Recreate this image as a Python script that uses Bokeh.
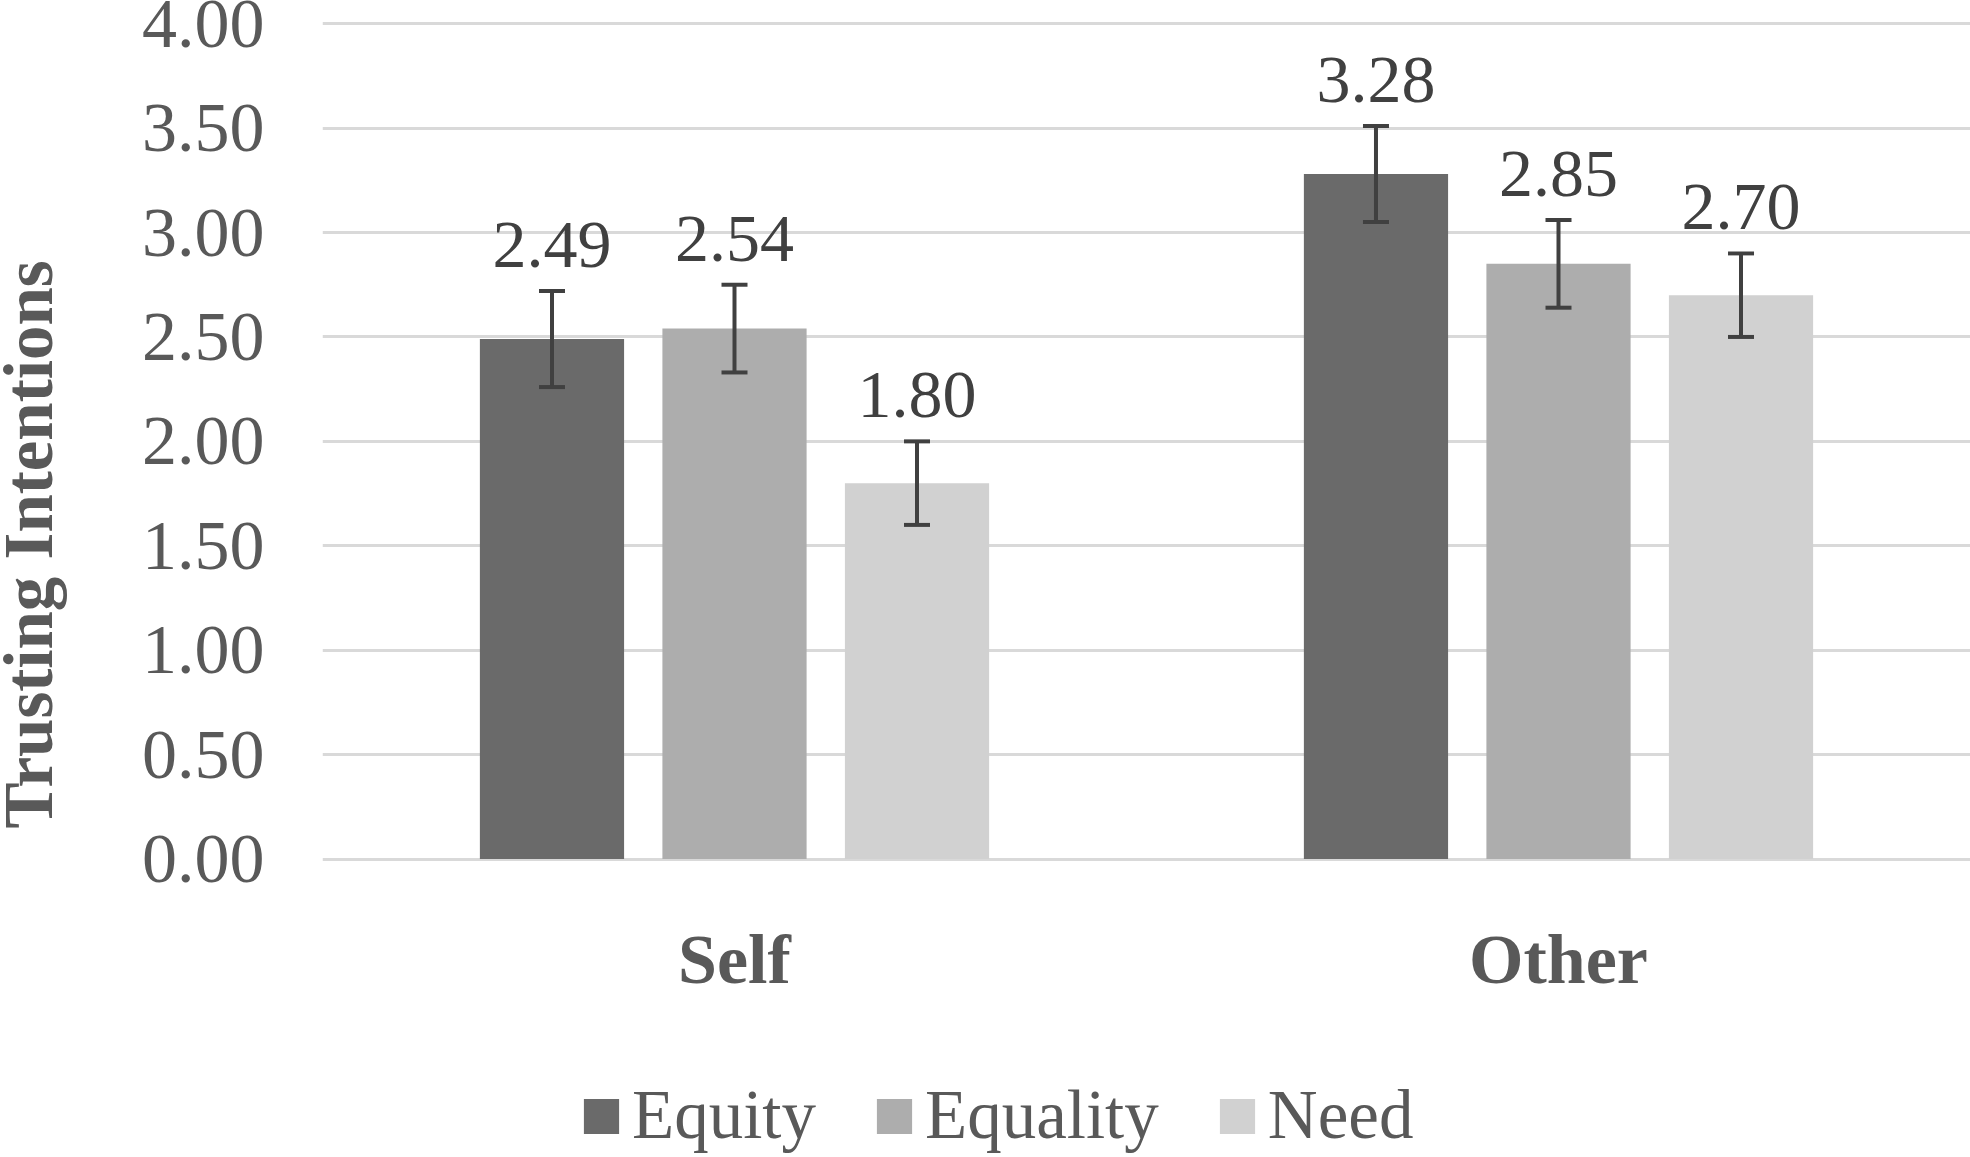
from bokeh.plotting import figure
from bokeh.models import (ColumnDataSource, FactorRange, Range1d, FixedTicker, NumeralTickFormatter,
                          Whisker, TeeHead, Legend, LegendItem, LabelSet, Label)
from bokeh.transform import dodge
from bokeh.embed import file_html
from bokeh.resources import INLINE

# ---- data ----
categories = ["Self", "Other"]
series = ["Equity", "Equality", "Need"]
equity = [2.49, 3.28]
equality = [2.54, 2.85]
need = [1.80, 2.70]
equity_err = [0.23, 0.23]
equality_err = [0.21, 0.21]
need_err = [0.20, 0.20]
y_ticks = [0, 0.5, 1.0, 1.5, 2.0, 2.5, 3.0, 3.5, 4.0]
y_title = "Trusting Intentions"

colors = ["#6a6a6a", "#adadad", "#d1d1d1"]
offsets = [-0.2215, 0.0, 0.2215]
vals = [equity, equality, need]
errs = [equity_err, equality_err, need_err]

FONT = "Liberation Serif"

# frame runs to the bottom edge so that category labels and legend can sit below zero
p = figure(x_range=FactorRange(factors=categories, range_padding=0),
           y_range=Range1d(-1.429, 4.02),
           x_axis_location=None,
           width=1970, height=1157, output_backend="svg", toolbar_location=None,
           min_border_left=322, min_border_right=0, min_border_top=19, min_border_bottom=0)
p.outline_line_color = None
p.background_fill_color = "white"
p.border_fill_color = "white"

renderers = []
for name, col, off, v, e in zip(series, colors, offsets, vals, errs):
    src = ColumnDataSource(dict(
        cat=categories,
        val=v,
        upper=[a + b for a, b in zip(v, e)],
        lower=[a - b for a, b in zip(v, e)],
        label=["%.2f" % a for a in v],
    ))
    r = p.vbar(x=dodge("cat", off, range=p.x_range), top="val", bottom=0, width=0.175, source=src,
               fill_color=col, line_color=None)
    renderers.append((name, r))
    w = Whisker(base=dodge("cat", off, range=p.x_range), upper="upper", lower="lower", source=src,
                line_color="#404040", line_width=4, level="overlay",
                upper_head=TeeHead(size=26, line_color="#404040", line_width=4),
                lower_head=TeeHead(size=26, line_color="#404040", line_width=4))
    p.add_layout(w)
    lbl = LabelSet(x=dodge("cat", off, range=p.x_range), y="upper", text="label", source=src,
                   text_font=FONT, text_font_size="68px", text_color="#404040",
                   text_align="center", text_baseline="alphabetic", y_offset=24, level="overlay")
    p.add_layout(lbl)

# category labels (horizontal axis)
cat_src = ColumnDataSource(dict(cat=categories, base=[0] * len(categories)))
p.add_layout(LabelSet(x="cat", y="base", text="cat", source=cat_src,
                      text_font=FONT, text_font_size="70px", text_font_style="bold",
                      text_color="#595959", text_align="center", text_baseline="alphabetic",
                      y_offset=-124))

# grid
p.xgrid.visible = False
p.ygrid.grid_line_color = "#d9d9d9"
p.ygrid.grid_line_width = 3
p.ygrid.ticker = FixedTicker(ticks=y_ticks)

# y axis
p.yaxis.ticker = FixedTicker(ticks=y_ticks)
p.yaxis.formatter = NumeralTickFormatter(format="0.00")
p.yaxis.axis_line_color = None
p.yaxis.major_tick_line_color = None
p.yaxis.minor_tick_line_color = None
p.yaxis.major_label_text_font = FONT
p.yaxis.major_label_text_font_size = "70px"
p.yaxis.major_label_text_color = "#595959"
p.yaxis.major_label_standoff = 52

ytitle = Label(text=y_title, x=-34, y=329, x_units="screen", y_units="screen",
               angle=90, angle_units="deg", text_align="left", text_baseline="alphabetic",
               text_font=FONT, text_font_size="69px", text_font_style="bold",
               text_color="#595959")
p.add_layout(ytitle, "left")

legend = Legend(items=[LegendItem(label=n, renderers=[r]) for n, r in renderers],
                orientation="horizontal", location=(257, 2),
                glyph_width=44, glyph_height=44, label_standoff=9, spacing=56,
                padding=0, margin=0, border_line_color=None, background_fill_alpha=0,
                label_text_font=FONT, label_text_font_size="69px", label_text_color="#595959")
p.add_layout(legend, "center")

open("out.html", "w").write(file_html(p, INLINE))
